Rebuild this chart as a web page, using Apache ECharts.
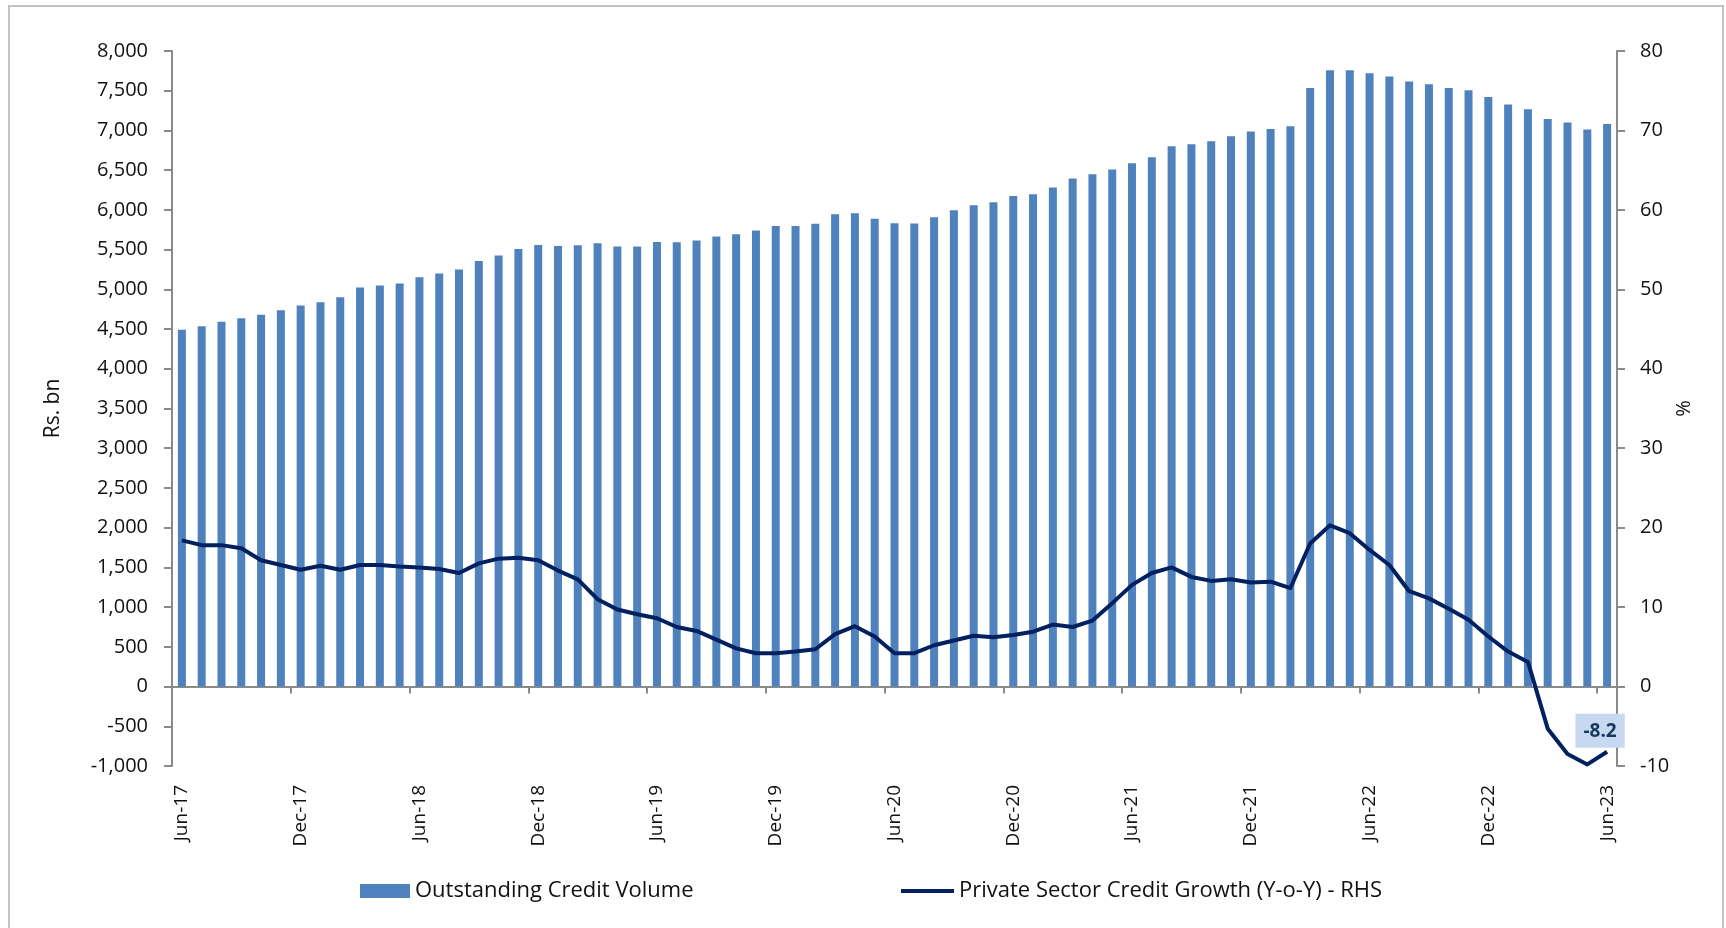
<!DOCTYPE html>
<html>
<head>
<meta charset="utf-8">
<title>Outstanding Credit Volume and Private Sector Credit Growth</title>
<script src="https://cdn.jsdelivr.net/npm/echarts@6/dist/echarts.min.js"></script>
<style>
  html, body { margin: 0; padding: 0; background: #ffffff; }
  #chart { width: 1726px; height: 928px; }
</style>
</head>
<body>
<div id="chart"></div>
<script>
// Monthly categories, Jun-17 to Jun-23
const months = [
  'Jun-17','Jul-17','Aug-17','Sep-17','Oct-17','Nov-17','Dec-17',
  'Jan-18','Feb-18','Mar-18','Apr-18','May-18','Jun-18','Jul-18','Aug-18','Sep-18','Oct-18','Nov-18','Dec-18',
  'Jan-19','Feb-19','Mar-19','Apr-19','May-19','Jun-19','Jul-19','Aug-19','Sep-19','Oct-19','Nov-19','Dec-19',
  'Jan-20','Feb-20','Mar-20','Apr-20','May-20','Jun-20','Jul-20','Aug-20','Sep-20','Oct-20','Nov-20','Dec-20',
  'Jan-21','Feb-21','Mar-21','Apr-21','May-21','Jun-21','Jul-21','Aug-21','Sep-21','Oct-21','Nov-21','Dec-21',
  'Jan-22','Feb-22','Mar-22','Apr-22','May-22','Jun-22','Jul-22','Aug-22','Sep-22','Oct-22','Nov-22','Dec-22',
  'Jan-23','Feb-23','Mar-23','Apr-23','May-23','Jun-23'
];

// Outstanding credit volume, Rs. bn (left axis)
const creditVolume = [
  4490, 4536, 4591, 4637, 4679, 4738, 4797,
  4838, 4901, 5023, 5048, 5073, 5153, 5199, 5249, 5358, 5426, 5509, 5559,
  5547, 5555, 5581, 5539, 5539, 5597, 5593, 5615, 5665, 5694, 5740, 5798,
  5798, 5824, 5946, 5958, 5887, 5832, 5828, 5908, 5996, 6059, 6097, 6176,
  6197, 6281, 6395, 6449, 6508, 6587, 6663, 6801, 6826, 6864, 6927, 6986,
  7019, 7053, 7535, 7758, 7758, 7720, 7678, 7617, 7583, 7535, 7506, 7422,
  7326, 7267, 7145, 7100, 7012, 7082
];

// Private sector credit growth, % Y-o-Y (right axis)
const creditGrowth = [
  18.4, 17.8, 17.8, 17.4, 15.9, 15.3, 14.7,
  15.2, 14.7, 15.3, 15.3, 15.1, 15.0, 14.8, 14.3, 15.5, 16.1, 16.2, 15.9,
  14.6, 13.5, 11.0, 9.7, 9.1, 8.6, 7.5, 7.0, 5.9, 4.8, 4.2, 4.2,
  4.4, 4.7, 6.6, 7.6, 6.3, 4.2, 4.2, 5.2, 5.8, 6.4, 6.2, 6.5,
  6.9, 7.8, 7.5, 8.3, 10.5, 12.8, 14.3, 15.0, 13.8, 13.3, 13.5, 13.1,
  13.2, 12.4, 18.0, 20.3, 19.3, 17.2, 15.3, 12.0, 11.1, 9.8, 8.4, 6.3,
  4.4, 3.1, -5.3, -8.5, -9.8, -8.2
];

const barName = 'Outstanding Credit Volume';
const lineName = 'Private Sector Credit Growth (Y-o-Y) - RHS';

const FONT = "'Open Sans', 'Noto Sans', sans-serif";
const AXIS_GREY = '#8a8a8a';
const TEXT = '#111111';
const NAVY = '#002060';

// Only the latest growth reading carries a value label
const growthData = creditGrowth.map((v, i) => {
  if (i !== creditGrowth.length - 1) return v;
  return {
    value: v,
    label: {
      show: true,
      position: 'top',
      distance: 4,
      offset: [-7, 0],
      formatter: (p) => p.value.toFixed(1),
      backgroundColor: '#c6d9f1',
      padding: [8, 8, 7, 8],
      color: '#17375e',
      fontFamily: FONT,
      fontWeight: 'bold',
      fontSize: 19
    }
  };
});

const chart = echarts.init(document.getElementById('chart'), null, { renderer: 'canvas' });

chart.setOption({
  animation: false,
  backgroundColor: '#ffffff',
  textStyle: { fontFamily: FONT, color: TEXT },
  graphic: [{
    type: 'rect',
    shape: { x: 9, y: 6, width: 1714, height: 940 },
    style: { fill: 'none', stroke: '#c3c3c3', lineWidth: 2 },
    silent: true,
    z: -1
  }],
  grid: { left: 172, right: 109, top: 51, bottom: 162, containLabel: false },
  legend: [{
    left: 355,
    top: 875,
    itemWidth: 50,
    itemHeight: 14,
    itemGap: 5,
    data: [{ name: barName, icon: 'rect' }],
    textStyle: { fontFamily: FONT, fontSize: 22, color: TEXT }
  }, {
    left: 896,
    top: 875,
    itemWidth: 53,
    itemHeight: 4,
    data: [{ name: lineName, icon: 'rect' }],
    textStyle: { fontFamily: FONT, fontSize: 22, color: TEXT }
  }],
  xAxis: [{
    // category axis drawn along the zero line, ticks every six months
    type: 'category',
    data: months,
    boundaryGap: true,
    axisLine: { onZero: true, lineStyle: { color: AXIS_GREY, width: 2 } },
    axisTick: { show: true, interval: 5, length: 7, lineStyle: { color: AXIS_GREY, width: 2 } },
    axisLabel: { show: false },
    splitLine: { show: false }
  }, {
    // same categories, labels only, at the foot of the plot
    type: 'category',
    data: months,
    position: 'bottom',
    boundaryGap: true,
    axisLine: { show: false, onZero: false },
    axisTick: { show: false },
    axisLabel: {
      show: true,
      interval: 5,
      rotate: 90,
      margin: 19,
      fontFamily: FONT,
      fontSize: 19,
      color: TEXT
    },
    splitLine: { show: false }
  }],
  yAxis: [{
    type: 'value',
    min: -1000,
    max: 8000,
    interval: 500,
    position: 'left',
    name: 'Rs. bn',
    nameLocation: 'middle',
    nameGap: 108,
    nameTextStyle: { fontFamily: FONT, fontSize: 21, color: TEXT },
    axisLine: { show: true, lineStyle: { color: AXIS_GREY, width: 2 } },
    axisTick: { show: true, length: 8, lineStyle: { color: AXIS_GREY, width: 2 } },
    axisLabel: {
      margin: 24,
      fontFamily: FONT,
      fontSize: 20,
      color: TEXT,
      formatter: (v) => v.toLocaleString('en-US')
    },
    splitLine: { show: false }
  }, {
    type: 'value',
    min: -10,
    max: 80,
    interval: 10,
    position: 'right',
    name: '%',
    nameLocation: 'middle',
    nameGap: 57,
    nameMoveOverlap: false,
    nameTextStyle: { fontFamily: FONT, fontSize: 20, color: TEXT },
    axisLine: { show: true, lineStyle: { color: AXIS_GREY, width: 2 } },
    axisTick: { show: true, length: 8, lineStyle: { color: AXIS_GREY, width: 2 } },
    axisLabel: { margin: 23, fontFamily: FONT, fontSize: 20, color: TEXT },
    splitLine: { show: false }
  }],
  series: [{
    name: barName,
    type: 'bar',
    xAxisIndex: 0,
    yAxisIndex: 0,
    data: creditVolume,
    barWidth: 8,
    itemStyle: { color: '#4f81bd' },
    z: 2
  }, {
    name: lineName,
    type: 'line',
    xAxisIndex: 0,
    yAxisIndex: 1,
    data: growthData,
    symbol: 'circle',
    symbolSize: 0,
    showSymbol: true,
    smooth: false,
    lineStyle: { color: NAVY, width: 4, join: 'round' },
    itemStyle: { color: NAVY },
    z: 3
  }]
});
</script>
</body>
</html>
